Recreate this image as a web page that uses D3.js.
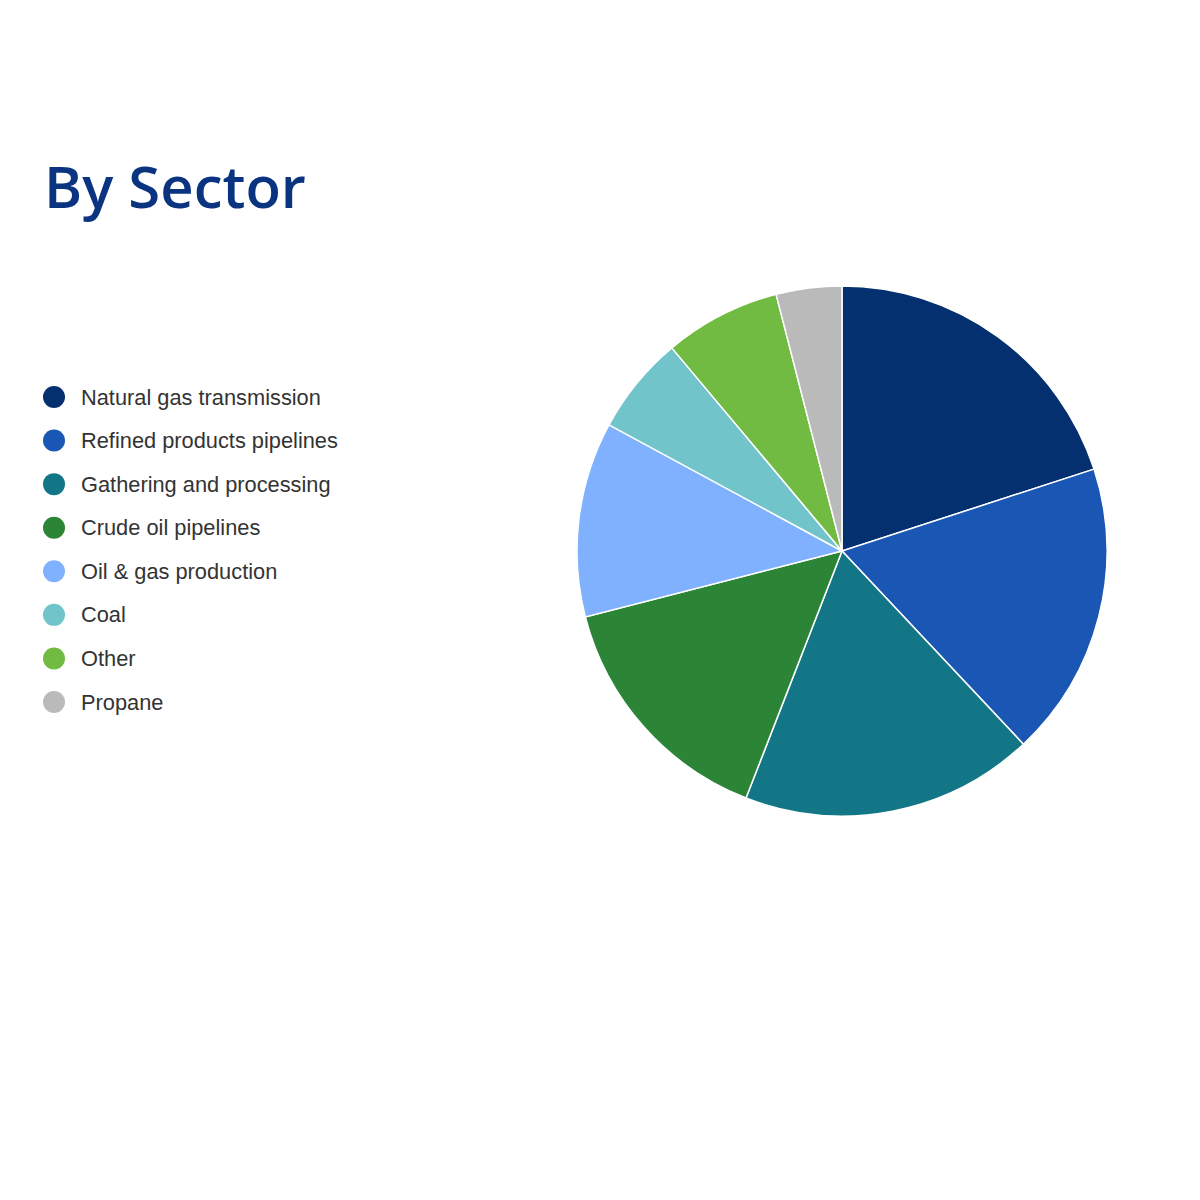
<!DOCTYPE html>
<html><head><meta charset="utf-8">
<script src="https://cdn.jsdelivr.net/npm/d3@7"></script>
<style>body{margin:0;background:#fff;} svg{display:block;}</style>
</head><body>
<script>
const categories = ["Natural gas transmission","Refined products pipelines","Gathering and processing","Crude oil pipelines","Oil & gas production","Coal","Other","Propane"];
const values = [20.0, 18.0, 17.9, 15.1, 11.9, 6.0, 7.1, 4.0];
const colors = ["#04306f","#1a56b4","#137686","#2c8536","#80b1fe","#72c4cb","#72bb42","#bababa"];
const title = "By Sector";

const svg = d3.select("body").append("svg").attr("width",1200).attr("height",1200);
svg.append("rect").attr("width",1200).attr("height",1200).attr("fill","#fff");

svg.append("text").attr("x",44).attr("y",208)
  .attr("font-family","'Open Sans', sans-serif").attr("font-weight",600)
  .attr("font-size",58).attr("fill","#0b3480").text(title);

const color = d3.scaleOrdinal().domain(categories).range(colors);
const ly = d3.scalePoint().domain(categories).range([397,702]);

const leg = svg.append("g").selectAll("g").data(categories).join("g")
  .attr("transform",d=>`translate(54,${ly(d)})`);
leg.append("circle").attr("r",11).attr("fill",d=>color(d));
leg.append("text").attr("x",27).attr("dy","0.35em")
  .attr("font-family","'Liberation Sans', Arial, sans-serif").attr("font-size",21.8)
  .attr("fill","#333").text(d=>d);

const pie = d3.pie().sort(null).value(d=>d.v);
const arcs = pie(categories.map((c,i)=>({c,v:values[i]})));
const arc = d3.arc().innerRadius(0).outerRadius(265);
svg.append("g").attr("transform","translate(842,551)")
  .selectAll("path").data(arcs).join("path")
  .attr("d",arc).attr("fill",d=>color(d.data.c))
  .attr("stroke","#fff").attr("stroke-width",1.5);
</script>
</body></html>
